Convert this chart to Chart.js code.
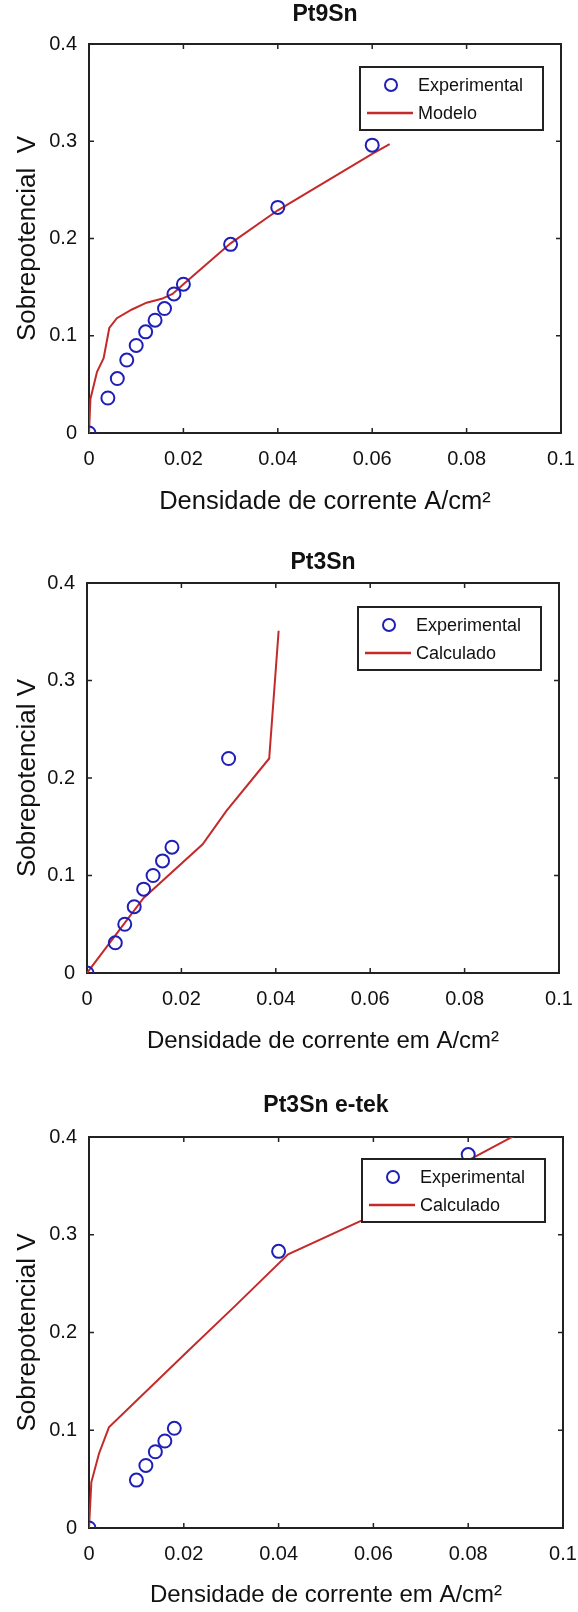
<!DOCTYPE html>
<html><head><meta charset="utf-8">
<script src="https://cdn.jsdelivr.net/npm/chart.js@4.4.1/dist/chart.umd.min.js"></script>
<style>
html,body{margin:0;padding:0;background:#fff;}
#wrap{position:relative;width:578px;height:1612px;background:#fff;}
canvas{position:absolute;left:0;}
</style></head><body>
<div id="wrap">
<canvas id="c1" width="578" height="519" style="top:0px"></canvas>
<canvas id="c2" width="578" height="519" style="top:539px"></canvas>
<canvas id="c3" width="578" height="519" style="top:1093px"></canvas>
</div>
<script>
// ---- tick labels ----
const xTickLabels = ['0','0.02','0.04','0.06','0.08','0.1'];
const yTickLabels = ['0','0.1','0.2','0.3','0.4'];

// ---- Pt9Sn ----
const pt9snExpX = [0, 0.004, 0.006, 0.008, 0.010, 0.012, 0.014, 0.016, 0.018, 0.020, 0.030, 0.040, 0.060];
const pt9snExpY = [0, 0.036, 0.056, 0.075, 0.090, 0.104, 0.116, 0.128, 0.143, 0.153, 0.194, 0.232, 0.296];
const pt9snModelX = [0, 0.0003, 0.0017, 0.0031, 0.0043, 0.0059, 0.0091, 0.0122, 0.0154, 0.0177, 0.020, 0.030, 0.040, 0.060, 0.0637];
const pt9snModelY = [0, 0.035, 0.063, 0.077, 0.108, 0.118, 0.127, 0.134, 0.138, 0.143, 0.153, 0.195, 0.229, 0.287, 0.297];

// ---- Pt3Sn ----
const pt3snExpX = [0, 0.006, 0.008, 0.010, 0.012, 0.014, 0.016, 0.018, 0.030];
const pt3snExpY = [0, 0.031, 0.050, 0.068, 0.086, 0.100, 0.115, 0.129, 0.220];
const pt3snCalcX = [0, 0.012, 0.0245, 0.0295, 0.0386, 0.0406];
const pt3snCalcY = [0, 0.077, 0.132, 0.166, 0.220, 0.351];

// ---- Pt3Sn e-tek ----
const etekExpX = [0, 0.010, 0.012, 0.014, 0.016, 0.018, 0.040, 0.080];
const etekExpY = [0, 0.049, 0.064, 0.078, 0.089, 0.102, 0.283, 0.382];
const etekCalcX = [0, 0.0005, 0.0021, 0.0042, 0.020, 0.031, 0.042, 0.060, 0.080, 0.090];
const etekCalcY = [0, 0.047, 0.076, 0.103, 0.177, 0.228, 0.280, 0.320, 0.376, 0.402];

const BLUE = '#1f1fb8';
const RED = '#c42a2a';
const TXT = '#111';
const FONT = "'Liberation Sans', Arial, Helvetica, sans-serif";

const framePlugin = {
  id: 'frame',
  beforeDatasetsDraw(chart) {
    const {ctx, chartArea: a, scales} = chart;
    ctx.save();
    ctx.strokeStyle = '#222';
    ctx.lineWidth = 2;
    ctx.strokeRect(a.left, a.top, a.right - a.left, a.bottom - a.top);
    ctx.lineWidth = 1.5;
    const tl = 5;
    ctx.beginPath();
    scales.x.ticks.forEach(t => {
      const px = scales.x.getPixelForValue(t.value);
      ctx.moveTo(px, a.bottom); ctx.lineTo(px, a.bottom - tl);
      ctx.moveTo(px, a.top); ctx.lineTo(px, a.top + tl);
    });
    scales.y.ticks.forEach(t => {
      const py = scales.y.getPixelForValue(t.value);
      ctx.moveTo(a.left, py); ctx.lineTo(a.left + tl, py);
      ctx.moveTo(a.right, py); ctx.lineTo(a.right - tl, py);
    });
    ctx.stroke();
    ctx.restore();
  }
};

const legendPlugin = {
  id: 'boxLegend',
  afterDatasetsDraw(chart, args, opts) {
    const {ctx, chartArea: a} = chart;
    const w = 183, h = 63;
    const right = a.right - 18, top = a.top + opts.dy;
    const left = right - w;
    ctx.save();
    ctx.fillStyle = '#fff';
    ctx.fillRect(left, top, w, h);
    ctx.strokeStyle = '#222';
    ctx.lineWidth = 2;
    ctx.strokeRect(left, top, w, h);
    ctx.strokeStyle = BLUE;
    ctx.lineWidth = 2;
    ctx.beginPath();
    ctx.arc(left + 31, top + 18, 6, 0, Math.PI * 2);
    ctx.stroke();
    ctx.strokeStyle = RED;
    ctx.lineWidth = 2.5;
    ctx.beginPath();
    ctx.moveTo(left + 7, top + 46); ctx.lineTo(left + 53, top + 46);
    ctx.stroke();
    ctx.fillStyle = TXT;
    ctx.font = '18px ' + FONT;
    ctx.textBaseline = 'middle';
    ctx.textAlign = 'left';
    ctx.fillText(opts.labels[0], left + 58, top + 19);
    ctx.fillText(opts.labels[1], left + 58, top + 47);
    ctx.restore();
  }
};

function pts(xs, ys) { return xs.map((x, i) => ({x: x, y: ys[i]})); }

function makePanel(id, p) {
  const ctx = document.getElementById(id);
  return new Chart(ctx, {
    type: 'scatter',
    data: {
      datasets: [
        {
          label: 'Experimental',
          data: pts(p.expX, p.expY),
          showLine: false,
          pointStyle: 'circle',
          pointRadius: 6.5,
          pointBorderWidth: 2,
          pointBorderColor: BLUE,
          pointBackgroundColor: 'rgba(0,0,0,0)',
          pointHoverRadius: 6.5
        },
        {
          label: p.lineLabel,
          data: pts(p.lineX, p.lineY),
          showLine: true,
          borderColor: RED,
          borderWidth: 2,
          pointRadius: 0,
          pointHoverRadius: 0,
          tension: 0,
          fill: false
        }
      ]
    },
    options: {
      responsive: false,
      animation: false,
      devicePixelRatio: 1,
      events: [],
      layout: { padding: { left: 0, right: 578 - p.right, top: 0, bottom: 0 } },
      plugins: {
        legend: { display: false },
        tooltip: { enabled: false },
        title: {
          display: true,
          fullSize: false,
          text: p.title,
          color: TXT,
          font: { family: FONT, size: 23, weight: 'bold', lineHeight: 1 },
          padding: { top: p.titleCenter - 11.5, bottom: 44 - 23 - (p.titleCenter - 11.5) }
        },
        boxLegend: { labels: ['Experimental', p.lineLabel], dy: p.legendDy }
      },
      scales: {
        x: {
          type: 'linear',
          min: 0, max: 0.1,
          grid: { display: false, drawTicks: false },
          border: { display: false },
          ticks: {
            stepSize: 0.02,
            padding: 14,
            color: TXT,
            font: { family: FONT, size: 20 },
            maxRotation: 0,
            autoSkip: false,
            callback: (v, i) => xTickLabels[i]
          },
          title: {
            display: true,
            text: p.xTitle,
            color: TXT,
            font: { family: FONT, size: p.xTitleSize },
            padding: { top: 0, bottom: 2 }
          },
          afterFit: s => { s.height = 519 - p.bottom; s.paddingLeft = 0; s.paddingRight = 0; }
        },
        y: {
          type: 'linear',
          min: 0, max: 0.4,
          grid: { display: false, drawTicks: false },
          border: { display: false },
          ticks: {
            stepSize: 0.1,
            padding: 12,
            color: TXT,
            font: { family: FONT, size: 20 },
            autoSkip: false,
            callback: (v, i) => yTickLabels[i]
          },
          title: {
            display: true,
            text: p.yTitle,
            color: TXT,
            font: { family: FONT, size: 26 },
            padding: { top: 12, bottom: 0 }
          },
          afterFit: s => { s.width = p.left; s.paddingTop = 0; s.paddingBottom = 0; }
        }
      }
    },
    plugins: [framePlugin, legendPlugin]
  });
}

makePanel('c1', {
  title: 'Pt9Sn', xTitle: 'Densidade de corrente A/cm²', yTitle: 'Sobrepotencial  V',
  expX: pt9snExpX, expY: pt9snExpY, lineX: pt9snModelX, lineY: pt9snModelY, lineLabel: 'Modelo',
  left: 89, right: 561, bottom: 433, legendDy: 23, titleCenter: 15, xTitleSize: 25.5
});
makePanel('c2', {
  title: 'Pt3Sn', xTitle: 'Densidade de corrente em A/cm²', yTitle: 'Sobrepotencial V',
  expX: pt3snExpX, expY: pt3snExpY, lineX: pt3snCalcX, lineY: pt3snCalcY, lineLabel: 'Calculado',
  left: 87, right: 559, bottom: 434, legendDy: 24, titleCenter: 24, xTitleSize: 24
});
makePanel('c3', {
  title: 'Pt3Sn e-tek', xTitle: 'Densidade de corrente em A/cm²', yTitle: 'Sobrepotencial V',
  expX: etekExpX, expY: etekExpY, lineX: etekCalcX, lineY: etekCalcY, lineLabel: 'Calculado',
  left: 89, right: 563, bottom: 435, legendDy: 22, titleCenter: 13, xTitleSize: 24
});
</script>
</body></html>
